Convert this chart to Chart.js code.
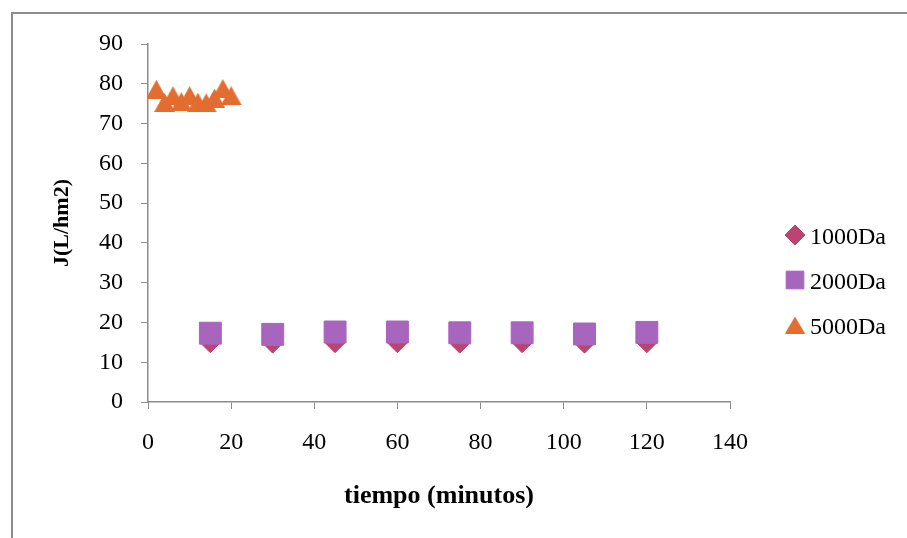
<!DOCTYPE html>
<html>
<head>
<meta charset="utf-8">
<script src="https://cdn.jsdelivr.net/npm/chart.js@4.4.1/dist/chart.umd.min.js"></script>
<style>
    html, body { margin: 0; padding: 0; background: #fff; }
    #wrap { position: relative; width: 907px; height: 538px; overflow: hidden; }
    #frame { position: absolute; left: 11px; top: 12px; width: 940px; height: 560px;
             border-left: 2px solid #8c8c8c; border-top: 2px solid #8c8c8c; }
    canvas { position: absolute; left: 0; top: 0; }
</style>
</head>
<body>
<div id="wrap">
    <div id="frame"></div>
    <canvas id="chart" width="907" height="538"></canvas>
</div>
<script>
    'use strict';

    // data
    var times1000 = [15, 30, 45, 60, 75, 90, 105, 120];
    var flux1000  = [14.9, 14.8, 14.9, 14.9, 14.8, 14.9, 14.8, 14.9];

    var times2000 = [15, 30, 45, 60, 75, 90, 105, 120];
    var flux2000  = [17.3, 17.0, 17.6, 17.6, 17.4, 17.4, 17.1, 17.5];

    var times5000 = [2, 4, 6, 8, 10, 12, 14, 16, 18, 20];
    var flux5000  = [78.6, 75.3, 77.0, 75.5, 77.0, 75.4, 75.2, 76.4, 78.8, 77.0];

    var xTicksMax = 140, xStep = 20;
    var yTicksMax = 90, yStep = 10;

    var serif = '"Liberation Serif", "Times New Roman", serif';
    var axisGray = '#8c8c8c';

    function toPoints(xs, ys) {
        return xs.map(function (x, i) { return { x: x, y: ys[i] }; });
    }

    // excel style triangle marker (box centred on the value)
    function triangleMarker(w, h, color) {
        var c = document.createElement('canvas');
        c.width = w;
        c.height = h;
        var g = c.getContext('2d');
        g.fillStyle = color;
        g.beginPath();
        g.moveTo(0, h);
        g.lineTo(w / 2, 0);
        g.lineTo(w, h);
        g.closePath();
        g.fill();
        return c;
    }

    var orange = '#e36c30';
    var triPlot = triangleMarker(21, 19, orange);
    var triLegend = triangleMarker(20, 17, orange);

    // legend drawn on the right, like the Excel one
    var sideLegend = {
        id: 'sideLegend',
        afterDraw: function (chart) {
            var ctx = chart.ctx;
            ctx.save();
            chart.data.datasets.forEach(function (ds, i) {
                var cx = 795, cy = 235 + i * 45;
                ctx.fillStyle = ds.backgroundColor;
                ctx.strokeStyle = ds.borderColor;
                ctx.lineWidth = 1;
                Chart.helpers.drawPoint(ctx, {
                    pointStyle: ds.legendStyle || ds.pointStyle,
                    radius: ds.legendRadius,
                    rotation: 0,
                    borderWidth: 1
                }, cx, cy);
                ctx.fillStyle = '#000';
                ctx.font = '24px ' + serif;
                ctx.textAlign = 'left';
                ctx.textBaseline = 'middle';
                ctx.fillText(ds.label, 810, cy + 3);
            });
            ctx.restore();
        }
    };

    new Chart(document.getElementById('chart'), {
        type: 'scatter',
        data: {
            datasets: [
                {
                    label: '1000Da',
                    data: toPoints(times1000, flux1000),
                    order: 3,
                    pointStyle: 'rectRot',
                    pointRadius: 10,
                    legendRadius: 10,
                    backgroundColor: '#bb4470',
                    borderColor: '#bb4470',
                    borderWidth: 1
                },
                {
                    label: '2000Da',
                    data: toPoints(times2000, flux2000),
                    order: 2,
                    pointStyle: 'rect',
                    pointRadius: 15.5,
                    legendRadius: 12.5,
                    backgroundColor: '#a865bd',
                    borderColor: '#a865bd',
                    borderWidth: 1
                },
                {
                    label: '5000Da',
                    data: toPoints(times5000, flux5000),
                    order: 1,
                    pointStyle: triPlot,
                    legendStyle: triLegend,
                    pointRadius: 11,
                    legendRadius: 11,
                    backgroundColor: orange,
                    borderColor: orange,
                    borderWidth: 0
                }
            ]
        },
        options: {
            responsive: false,
            animation: false,
            layout: {
                padding: { left: 0, top: 44, right: 177, bottom: 0 }
            },
            scales: {
                x: {
                    type: 'linear',
                    min: 0,
                    max: xTicksMax,
                    afterFit: function (scale) { scale.height = 136; },
                    border: { color: axisGray, width: 1.5 },
                    grid: { drawOnChartArea: false, drawTicks: true, tickLength: 7, color: axisGray },
                    ticks: {
                        stepSize: xStep,
                        color: '#000',
                        padding: 19,
                        maxRotation: 0,
                        font: { family: serif, size: 24 }
                    },
                    title: {
                        display: true,
                        text: 'tiempo (minutos)',
                        color: '#000',
                        padding: { top: 0, bottom: 26 },
                        font: { family: serif, size: 26, weight: 'bold' }
                    }
                },
                y: {
                    min: 0,
                    max: yTicksMax,
                    afterFit: function (scale) { scale.width = 148; },
                    border: { color: axisGray, width: 1.5 },
                    grid: { drawOnChartArea: false, drawTicks: true, tickLength: 7, color: axisGray },
                    ticks: {
                        stepSize: yStep,
                        color: '#000',
                        padding: 18,
                        font: { family: serif, size: 24 }
                    },
                    title: {
                        display: true,
                        text: 'J(L/hm2)',
                        color: '#000',
                        padding: { top: 49, bottom: 0 },
                        font: { family: serif, size: 22, weight: 'bold' }
                    }
                }
            },
            plugins: {
                legend: { display: false },
                tooltip: { enabled: false }
            }
        },
        plugins: [sideLegend]
    });
</script>
</body>
</html>
